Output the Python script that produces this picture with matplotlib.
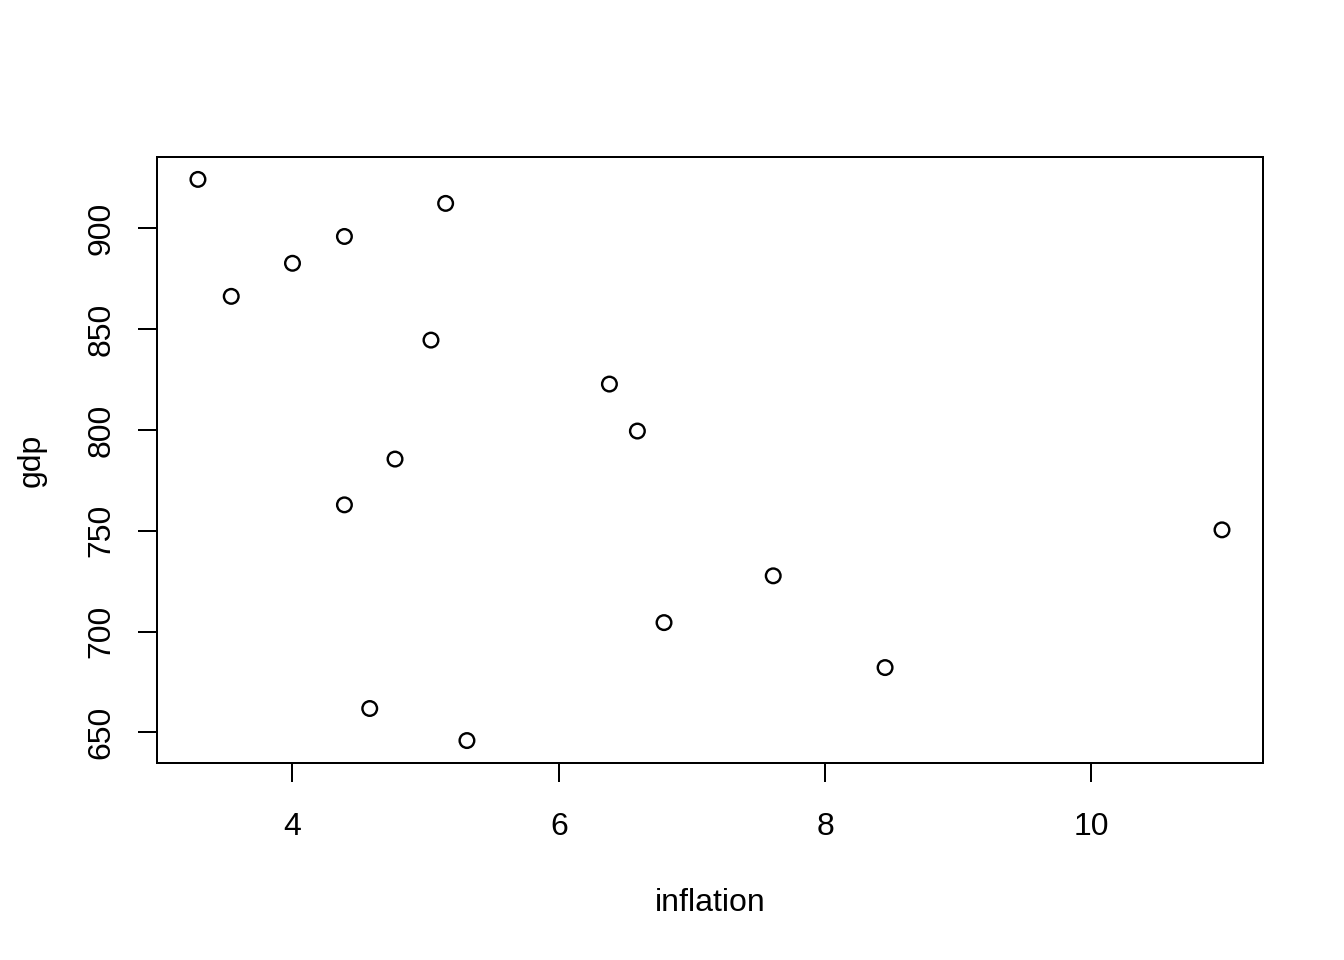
import matplotlib
matplotlib.use("Agg")
import matplotlib.pyplot as plt
import numpy as np

plt.rcParams['font.family'] = ['Liberation Sans', 'DejaVu Sans']

# values
inflation = [3.29, 3.54, 4.00, 4.39, 5.15, 5.04, 6.38, 6.59, 4.77,
             4.39, 10.98, 7.61, 6.79, 8.45, 4.58, 5.31]
gdp = [924.3, 866.3, 882.7, 896.0, 912.4, 844.6, 822.8, 799.5, 785.6,
       762.9, 750.5, 727.7, 704.5, 682.2, 661.9, 646.0]

x = np.array(inflation)
y = np.array(gdp)

fig = plt.figure(figsize=(7, 5), dpi=192)
ax = fig.add_axes([0.1168, 0.2052, 0.8229, 0.6313])

ax.scatter(x, y, s=30, facecolors='none', edgecolors='black', linewidths=0.9)

# R style 4% padding around the data range
xr = x.max() - x.min()
yr = y.max() - y.min()
ax.set_xlim(x.min() - 0.04 * xr, x.max() + 0.04 * xr)
ax.set_ylim(y.min() - 0.04 * yr, y.max() + 0.04 * yr)

ax.set_xticks([4, 6, 8, 10])
ax.set_yticks([650, 700, 750, 800, 850, 900])
for s in ax.spines.values():
    s.set_linewidth(0.75)
ax.tick_params(axis='both', length=7.2, width=0.75, labelsize=12)
ax.tick_params(axis='x', pad=11)
ax.tick_params(axis='y', pad=8)
for lab in ax.get_yticklabels():
    lab.set_rotation(90)
    lab.set_va('center')

ax.set_xlabel("inflation", fontsize=12, labelpad=17.5)
ax.set_ylabel("gdp", fontsize=12, labelpad=15)

fig.savefig("out.png", dpi=192)
